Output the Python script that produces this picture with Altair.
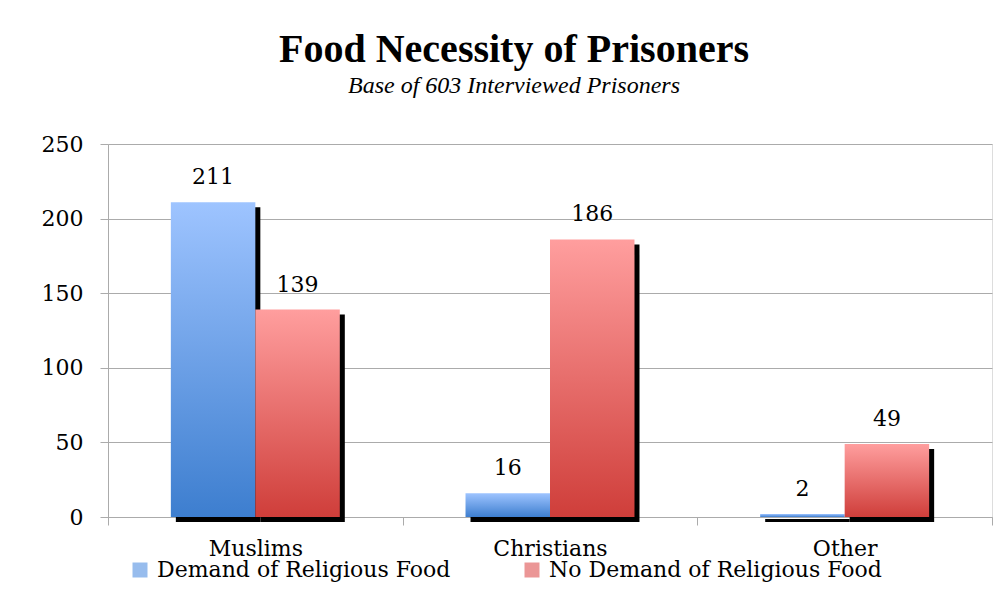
import altair as alt
import pandas as pd

categories = ["Muslims", "Christians", "Other"]
series = ["Demand of Religious Food", "No Demand of Religious Food"]
demand = [211, 16, 2]
no_demand = [139, 186, 49]
y_ticks = [0, 50, 100, 150, 200, 250]

rows = []
for c, d, n in zip(categories, demand, no_demand):
    rows.append({"category": c, "series": series[0], "value": d})
    rows.append({"category": c, "series": series[1], "value": n})
df = pd.DataFrame(rows)

FONT = "DejaVu Serif"
GRAY = "#ababab"
W, H = 884, 373
BAND = W / 3
SHIFT = 5

blue_grad = alt.Gradient(
    gradient="linear", x1=0, x2=0, y1=0, y2=1,
    stops=[alt.GradientStop(color="#9ec4ff", offset=0),
           alt.GradientStop(color="#3d7ecf", offset=1)],
)
red_grad = alt.Gradient(
    gradient="linear", x1=0, x2=0, y1=0, y2=1,
    stops=[alt.GradientStop(color="#ff9e9e", offset=0),
           alt.GradientStop(color="#cf3e3a", offset=1)],
)

x = alt.X(
    "category:N", sort=categories,
    scale=alt.Scale(paddingInner=0, paddingOuter=0),
    axis=alt.Axis(title=None, labelAngle=0, tickBand="extent", tickSize=8,
                  labelPadding=13, labelFont=FONT, labelFontSize=22,
                  labelColor="black", domainColor=GRAY, tickColor=GRAY,
                  grid=False),
)
xo = alt.XOffset(
    "series:N", sort=series,
    scale=alt.Scale(type="band", domain=series, paddingInner=0,
                    paddingOuter=0.744),
)
xo_shadow = alt.XOffset(
    "series:N", sort=series,
    scale=alt.Scale(type="band", domain=series, paddingInner=0,
                    paddingOuter=0.744, range=[SHIFT, BAND + SHIFT]),
)
y = alt.Y(
    "value:Q", scale=alt.Scale(domain=[0, 250]),
    axis=alt.Axis(title=None, values=y_ticks, tickSize=8, labelPadding=17,
                  labelFont=FONT, labelFontSize=22, labelColor="black",
                  domainColor=GRAY, tickColor=GRAY, gridColor=GRAY,
                  grid=True),
)

base = alt.Chart(df)

shadow = base.mark_bar(color="black", yOffset=5, y2Offset=3).encode(
    x=x, xOffset=xo_shadow, y=y)

blue = base.transform_filter(alt.datum.series == series[0]).mark_bar(
    fill=blue_grad).encode(x=x, xOffset=xo, y=y)
red = base.transform_filter(alt.datum.series == series[1]).mark_bar(
    fill=red_grad).encode(x=x, xOffset=xo, y=y)

labels = base.mark_text(font=FONT, fontSize=22, baseline="middle", dy=-25,
                        color="black").encode(
    x=x, xOffset=xo, y=y, text=alt.Text("value:Q"))

legend_layer = base.transform_filter("false").mark_square().encode(
    color=alt.Color(
        "series:N",
        scale=alt.Scale(domain=series, range=["#6b9fe6", "#e26a6a"]),
        legend=alt.Legend(
            title=None, orient="none", legendX=21, legendY=415,
            direction="horizontal", symbolType="square", symbolSize=225,
            symbolStrokeWidth=0, labelFont=FONT, labelFontSize=22,
            labelColor="black", labelLimit=600, labelOffset=6,
            columnPadding=70,
        ),
    )
)

chart = alt.layer(shadow, blue, red, labels, legend_layer).resolve_scale(
    xOffset="independent"
).properties(
    width=W, height=H,
    autosize=alt.AutoSizeParams(type="none"),
    padding={"left": 100, "top": 136, "right": 4, "bottom": 80},
    title=alt.Title(
        "Food Necessity of Prisoners",
        subtitle="Base of 603 Interviewed Prisoners",
        font="Liberation Serif", fontSize=40, fontWeight="bold",
        color="black", subtitleColor="black",
        subtitleFont="Liberation Serif", subtitleFontStyle="italic",
        subtitleFontSize=24, subtitlePadding=4, anchor="middle", dx=-36,
        offset=35, frame="group",
    ),
).configure_view(stroke=None).configure(background="white")

chart.save("out.html", embed_options={"renderer": "svg", "actions": False})
